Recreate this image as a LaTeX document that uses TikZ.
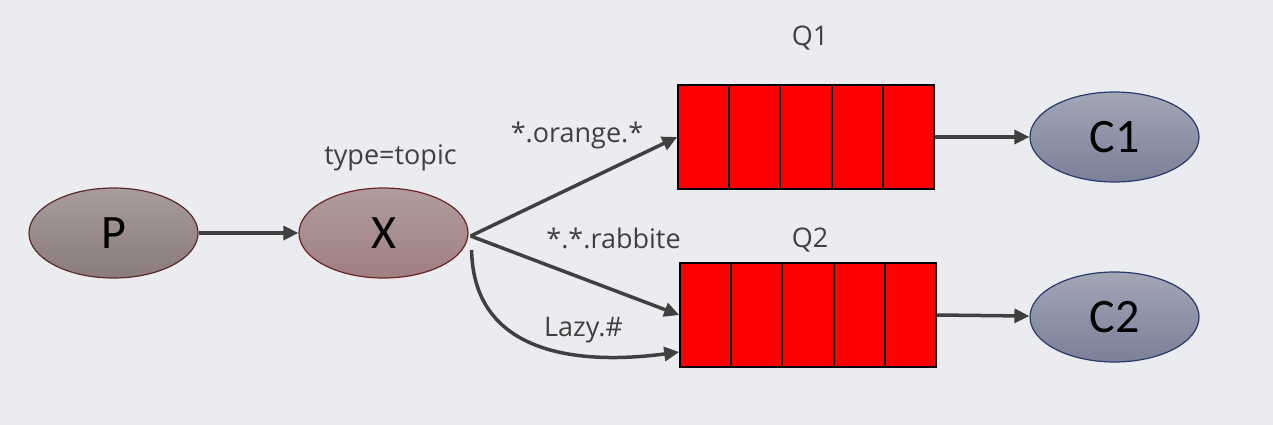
\documentclass[tikz,border=0pt]{standalone}
\usepackage{fontspec}
\setmainfont{Carlito}
\newfontfamily\lblfont{Open Sans}
\usetikzlibrary{arrows.meta,shapes.geometric,calc}
\definecolor{bg}{HTML}{EBECF0}
\definecolor{ln}{HTML}{404040}
\definecolor{ptop}{HTML}{A89C9C}
\definecolor{pbot}{HTML}{8A7B7D}
\definecolor{pbd}{HTML}{5A2A2A}
\definecolor{xtop}{HTML}{B09D9D}
\definecolor{xbot}{HTML}{A07F81}
\definecolor{xbd}{HTML}{6B2424}
\definecolor{ctop}{HTML}{A2A6B6}
\definecolor{cbot}{HTML}{7C8098}
\definecolor{cbd}{HTML}{263A6C}
\begin{document}
\begin{tikzpicture}[x=1pt,y=-1pt,
  ell/.style={ellipse,minimum width=169pt,minimum height=90pt,inner sep=0pt,line width=1.2pt,
    font=\fontsize{48}{48}\selectfont,text=black},
  pell/.style={ell,draw=pbd,top color=ptop,bottom color=pbot},
  xell/.style={ell,draw=xbd,top color=xtop,bottom color=xbot},
  cell/.style={ell,draw=cbd,top color=ctop,bottom color=cbot},
  queue/.style={rectangle,draw=black,fill=red,line width=1.6pt,minimum width=256pt,minimum height=104pt,inner sep=0pt},
  lbl/.style={text=ln,font=\lblfont\fontsize{27}{27}\selectfont,inner sep=0pt},
  conn/.style={draw=ln,line width=3.5pt,-{Triangle[length=15pt,width=14pt]}}]
\fill[bg] (0,0) rectangle (1273,425);
\useasboundingbox (0,0) rectangle (1273,425);
\node[pell] (P) at (113.5,233) {P};
\node[xell] (X) at (383.5,233) {X};
\node[queue] (q1) at (806,137) {};
\node[queue] (q2) at (808,315) {};
\foreach \q in {q1,q2}{
  \foreach \i in {1,2,3,4}{
    \draw[black,line width=1.6pt] ($(\q.north west)!\i/5!(\q.north east)$) -- ($(\q.south west)!\i/5!(\q.south east)$);
  }
}
\node[cell] (C1) at (1114.5,137) {C1};
\node[cell] (C2) at (1114.5,317) {C2};
\node[lbl] (tq1) at (810,38) {Q1};
\node[lbl] (tq2) at (810,240) {Q2};
\node[lbl] (tt) at (390.5,158) {type=topic};
\node[lbl] (to) at (577,135) {*.orange.*};
\node[lbl] (tr) at (613.5,238) {*.*.rabbite};
\node[lbl] (tl) at (583.5,330) {Lazy.\#};
\coordinate (xs) at ($(X.east)+(2,3)$);
\coordinate (xc) at ($(X.east)+(3,17)$);
\coordinate (q2l) at ($(q2.west)+(0,37)$);
\path[conn] (P) -- (X);
\path[conn] (xs) -- (q1.west);
\path[conn] (xs) -- (q2.west);
\path[conn] (xc) .. controls ($(xc)+(2,110)$) and ($(q2l)+(-90,12)$) .. (q2l);
\path[conn] (q1.east) -- (C1);
\path[conn] (q2.east) -- (C2);
\end{tikzpicture}
\end{document}
